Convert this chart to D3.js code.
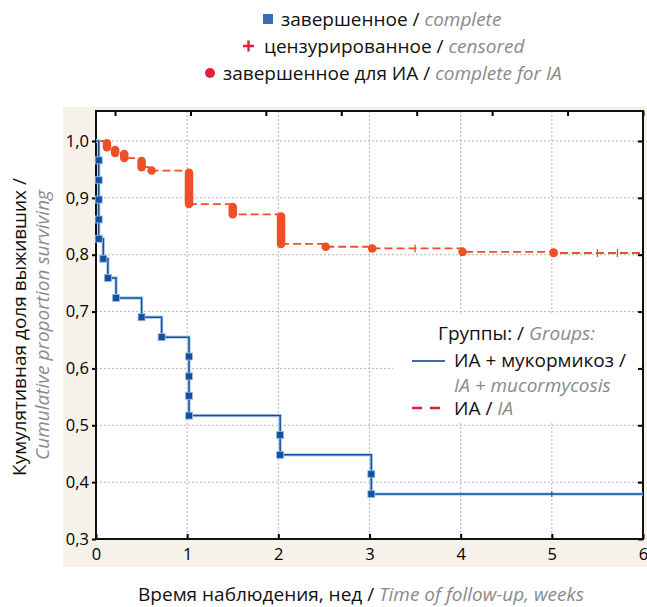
<!DOCTYPE html>
<html>
<head>
<meta charset="utf-8">
<script src="https://cdn.jsdelivr.net/npm/d3@7"></script>
<style>
  body { margin: 0; background: #fff; }
  svg text { font-family: "Open Sans", "Noto Sans", sans-serif; }
</style>
</head>
<body>
<div id="chart"></div>
<script>
// ---- data ----
// IA + mucormycosis: event times (weeks) and survival after each event
const blueTimes = [0.03, 0.03, 0.03, 0.03, 0.03, 0.08, 0.13, 0.22, 0.50, 0.72,
                   1.02, 1.02, 1.02, 1.02, 2.02, 2.02, 3.02, 3.02];
const blueSurv  = [0.966, 0.931, 0.897, 0.862, 0.828, 0.793, 0.759, 0.724, 0.690, 0.655,
                   0.621, 0.586, 0.552, 0.517, 0.483, 0.448, 0.414, 0.379];
const blueCensT = [5.0];

// IA: groups of events (time, first and last survival value in the group)
const redTimes = [0.12, 0.21, 0.31, 0.50, 0.61, 1.02, 1.50, 2.03, 2.52, 3.03, 4.02, 5.02];
const redTop   = [0.996, 0.984, 0.977, 0.965, 0.948, 0.944, 0.884, 0.867, 0.814, 0.811, 0.805, 0.804];
const redBot   = [0.989, 0.979, 0.970, 0.954, 0.948, 0.889, 0.871, 0.819, 0.814, 0.811, 0.805, 0.803];
const redCensT = [3.5, 5.5, 5.72];

const yTicks = [0.3, 0.4, 0.5, 0.6, 0.7, 0.8, 0.9, 1.0];
const xTicks = [0, 1, 2, 3, 4, 5, 6];
const xMax = 6;

// ---- layout ----
const W = 647, H = 607;
const L = 96, R = 643, T = 111, B = 539;
const BLUE = '#0f52a3', RED = '#ef4f26', GRAY = '#8a8a8a';
const FS = '19px';

const svg = d3.select('#chart').append('svg')
  .attr('width', W).attr('height', H);

// beige frame behind axes
svg.append('rect').attr('x', 63).attr('y', 107).attr('width', W - 63).attr('height', 460)
  .attr('fill', '#f6f2ea');
svg.append('rect').attr('x', L).attr('y', T).attr('width', R - L).attr('height', B - T)
  .attr('fill', '#fff');

const x = d3.scaleLinear().domain([0, xMax]).range([L, R]);
const y = d3.scaleLinear().domain([0.3, 1.0]).range([B, 141]);
const xTop = d3.scaleLinear().domain([0, 7]).range([115, R]);

const locale = d3.formatLocale({ decimal: ',', thousands: ' ', grouping: [3], currency: ['', ''] });
const fmt = locale.format('.1f');

// grid
const grid = svg.append('g').attr('stroke', '#b4b4b4').attr('stroke-width', 1)
  .attr('stroke-dasharray', '2,2');
grid.selectAll('.gy').data(yTicks.slice(1)).enter().append('line')
  .attr('x1', L).attr('x2', R).attr('y1', d => y(d)).attr('y2', d => y(d));
grid.selectAll('.gx').data(xTicks.slice(1, -1)).enter().append('line')
  .attr('y1', T).attr('y2', B).attr('x1', d => x(d)).attr('x2', d => x(d));

// legend box inside plot hides the grid
svg.append('rect').attr('x', 393).attr('y', 315).attr('width', 245).attr('height', 106)
  .attr('fill', '#fff');

// axes
function styleAxis(g) {
  g.select('.domain').remove();
  g.selectAll('line').attr('stroke', '#000').attr('stroke-width', 2);
  g.selectAll('text').attr('fill', '#000').style('font-size', '16.5px');
}
svg.append('g').attr('transform', `translate(${L},0)`)
  .call(d3.axisLeft(y).tickValues(yTicks).tickFormat(fmt).tickSize(4).tickPadding(3))
  .call(styleAxis);
svg.append('g').attr('transform', `translate(${R},0)`)
  .call(d3.axisRight(y).tickValues(yTicks).tickFormat('').tickSize(-5))
  .call(styleAxis);
svg.append('g').attr('transform', `translate(0,${B})`)
  .call(d3.axisBottom(x).tickValues(xTicks).tickFormat(d3.format('d')).tickSize(-5).tickPadding(9))
  .call(styleAxis);
svg.append('g').attr('transform', `translate(0,${T})`)
  .call(d3.axisTop(xTop).tickValues([0, 1, 2, 3, 4, 5, 6, 7]).tickFormat('').tickSize(-5))
  .call(styleAxis);
svg.append('rect').attr('x', L).attr('y', T).attr('width', R - L).attr('height', B - T)
  .attr('fill', 'none').attr('stroke', '#111').attr('stroke-width', 2);

const step = d3.line().x(d => x(d[0])).y(d => y(d[1])).curve(d3.curveStepAfter);

// ---- IA (red, dashed) ----
const redPts = [[0, 1.0]].concat(redTimes.map((t, i) => [t, redBot[i]]));
redPts.push([xMax, redBot[redBot.length - 1]]);
svg.append('path').datum(redPts).attr('d', step)
  .attr('fill', 'none').attr('stroke', RED).attr('stroke-width', 1.8)
  .attr('stroke-dasharray', '8,4');
const redLevel = t => redPts.filter(p => p[0] <= t).pop()[1];
svg.selectAll('.rc').data(redCensT).enter().append('line')
  .attr('x1', d => x(d)).attr('x2', d => x(d))
  .attr('y1', d => y(redLevel(d)) - 4).attr('y2', d => y(redLevel(d)) + 4)
  .attr('stroke', RED).attr('stroke-width', 1.3);
svg.selectAll('.rg').data(redTimes).enter().append('line')
  .attr('x1', d => x(d)).attr('x2', d => x(d))
  .attr('y1', (d, i) => y(redTop[i])).attr('y2', (d, i) => y(redBot[i]))
  .attr('stroke', RED).attr('stroke-width', 8.5).attr('stroke-linecap', 'round');

// ---- IA + mucormycosis (blue, solid) ----
const bluePts = [[0, 1.0]].concat(blueTimes.map((t, i) => [t, blueSurv[i]]));
bluePts.push([xMax, blueSurv[blueSurv.length - 1]]);
svg.append('path').datum(bluePts).attr('d', step)
  .attr('fill', 'none').attr('stroke', '#b9cde8').attr('stroke-width', 3.4);
svg.append('path').datum(bluePts).attr('d', step)
  .attr('fill', 'none').attr('stroke', BLUE).attr('stroke-width', 1.5);
const blueLevel = t => bluePts.filter(p => p[0] <= t).pop()[1];
svg.selectAll('.bc').data(blueCensT).enter().append('line')
  .attr('x1', d => x(d)).attr('x2', d => x(d))
  .attr('y1', d => y(blueLevel(d)) - 3).attr('y2', d => y(blueLevel(d)) + 3)
  .attr('stroke', BLUE).attr('stroke-width', 1);
svg.selectAll('.bs').data(blueTimes).enter().append('rect')
  .attr('x', d => x(d) - 3.5).attr('y', (d, i) => y(blueSurv[i]) - 3.5)
  .attr('width', 7).attr('height', 7)
  .attr('fill', BLUE).attr('stroke', '#9fbbe0').attr('stroke-width', 0.8);

// ---- top legend (marker types) ----
function twoPart(g, xx, yy, main, it, anchor) {
  const t = g.append('text').attr('x', xx).attr('y', yy).attr('text-anchor', anchor || 'start')
    .style('font-size', FS);
  t.append('tspan').attr('fill', '#111').text(main);
  t.append('tspan').attr('fill', GRAY).style('font-style', 'italic').text(it);
  return t;
}
const markLeg = svg.append('g');
markLeg.append('rect').attr('x', 263).attr('y', 14).attr('width', 10).attr('height', 10).attr('fill', '#3c6db4');
twoPart(markLeg, 281, 26, 'завершенное / ', 'complete');
markLeg.append('path').attr('d', 'M243,46h11M248.5,40.5v11').attr('stroke', '#e31e3a').attr('stroke-width', 2.4);
twoPart(markLeg, 264, 53, 'цензурированное / ', 'censored');
markLeg.append('circle').attr('cx', 210).attr('cy', 73).attr('r', 5).attr('fill', '#e0203a');
twoPart(markLeg, 223, 80, 'завершенное для ИА / ', 'complete for IA');

// ---- group legend ----
const lg = svg.append('g');
twoPart(lg, 438, 340, 'Группы: / ', 'Groups:');
lg.append('line').attr('x1', 412).attr('x2', 445).attr('y1', 361).attr('y2', 361)
  .attr('stroke', '#3c6db4').attr('stroke-width', 2);
lg.append('text').attr('x', 454).attr('y', 367).style('font-size', FS).attr('fill', '#111')
  .text('ИА + мукормикоз /');
lg.append('text').attr('x', 454).attr('y', 392).style('font-size', FS).attr('fill', GRAY)
  .style('font-style', 'italic').text('IA + mucormycosis');
lg.append('line').attr('x1', 412).attr('x2', 445).attr('y1', 408).attr('y2', 408)
  .attr('stroke', '#e31e3a').attr('stroke-width', 2.4).attr('stroke-dasharray', '10,8');
twoPart(lg, 454, 415, 'ИА / ', 'IA');

// ---- axis titles ----
twoPart(svg, 361, 601, 'Время наблюдения, нед / ', 'Time of follow-up, weeks', 'middle');
svg.append('text').attr('transform', 'translate(26,327) rotate(-90)').attr('text-anchor', 'middle')
  .style('font-size', FS).attr('fill', '#111').text('Кумулятивная доля выживших /');
svg.append('text').attr('transform', 'translate(49,325) rotate(-90)').attr('text-anchor', 'middle')
  .style('font-size', FS).attr('fill', GRAY).style('font-style', 'italic')
  .text('Cumulative proportion surviving');
</script>
</body>
</html>
